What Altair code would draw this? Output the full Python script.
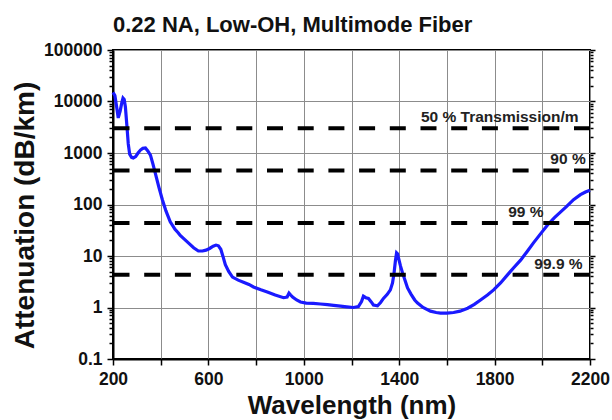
import altair as alt
import numpy as np
import pandas as pd

FONT = "Liberation Sans"

# Spectral attenuation of the fiber
wavelength_nm = [
    200, 208, 215, 222, 230, 237, 242, 247, 252, 258, 264, 270, 278, 285, 295,
    305, 315, 325, 336, 346, 357, 367, 377, 392, 407, 422, 440, 460, 474, 482,
    500, 516, 538, 558, 575, 590, 605, 620, 632, 642, 652, 662, 671, 685, 701,
    725, 747, 770, 789, 820, 847, 880, 915, 930, 938, 945, 953, 970, 986, 1010,
    1040, 1070, 1099, 1125, 1154, 1180, 1208, 1229, 1242, 1250, 1260, 1271, 1282,
    1292, 1309, 1322, 1334, 1350, 1363, 1372, 1378, 1384, 1389, 1393, 1397, 1405,
    1414, 1425, 1435, 1450, 1465, 1477, 1500, 1531, 1555, 1573, 1600, 1628, 1655,
    1687, 1715, 1741, 1770, 1796, 1825, 1854, 1880, 1909, 1935, 1963, 1990, 2022,
    2050, 2076, 2100, 2131, 2160, 2181, 2200,
]
attenuation_db_km = [
    15000, 13000, 8000, 4800, 6500, 9500, 11700, 11000, 7800, 3500, 1500, 950, 820, 800, 850,
    1000, 1140, 1230, 1250, 1100, 910, 620, 410, 220, 124, 75, 46, 33, 28, 25,
    21, 18, 14.5, 12.5, 12.5, 13, 14, 15.5, 16.3, 15.8, 13.5, 9.5, 6.8, 5.0, 3.9,
    3.4, 3.1, 2.8, 2.5, 2.2, 2.0, 1.75, 1.55, 1.6, 1.9, 1.75, 1.6, 1.4, 1.28, 1.22,
    1.2, 1.17, 1.14, 1.1, 1.06, 1.03, 1.0, 1.04, 1.3, 1.66, 1.55, 1.5, 1.3,
    1.12, 1.08, 1.25, 1.5, 1.8, 2.2, 3.0, 4.5, 8.0, 11.5, 11.0, 9.2, 6.5,
    4.7, 3.3, 2.4, 1.8, 1.4, 1.22, 1.0, 0.85, 0.8, 0.78, 0.78, 0.8, 0.85,
    0.97, 1.15, 1.4, 1.75, 2.2, 3.0, 4.3, 5.9, 8.3, 12, 18, 26, 40,
    55, 71, 90, 124, 155, 175, 190,
]

# Transmission-per-metre reference levels
transmission_pct = [50, 90, 99, 99.9]
threshold_labels = ["50 % Transmission/m", "90 %", "99 %", "99.9 %"]
label_end_nm = [2152, 2182, 2005, 2169]

decades = [0.1, 1, 10, 100, 1000, 10000, 100000]
minor_ticks = [round(m * d, 6) for d in decades[:-1] for m in range(2, 10)]
y_ticks = sorted(decades + minor_ticks)
x_ticks = list(range(200, 2201, 200))

curve = pd.DataFrame({"wavelength": wavelength_nm, "attenuation": attenuation_db_km})
levels = pd.DataFrame({
    "pct": transmission_pct,
    "label": threshold_labels,
    "label_x": label_end_nm,
})
# dB/km that leaves the given fraction of light after one metre
levels["loss"] = -10 * np.log10(levels["pct"] / 100) * 1000

is_decade = "indexof([0.1, 1, 10, 100, 1000, 10000, 100000], datum.value) >= 0"

x_scale = alt.Scale(domain=[200, 2200], nice=False, zero=False)
y_scale = alt.Scale(type="log", domain=[0.1, 100000], nice=False)


def bottom_axis():
    return alt.Axis(
        orient="bottom",
        values=x_ticks,
        format="d",
        labelExpr="datum.value % 400 == 200 ? datum.label : ''",
        labelFont=FONT, labelFontSize=17.5, labelFontWeight="bold", labelColor="#111",
        labelPadding=5, labelOverlap=False, labelFlush=False,
        grid=True, gridColor="#8c8c8c", gridWidth=1,
        tickSize=6, tickColor="black", tickWidth=1.5,
        domainColor="black", domainWidth=2,
        title="Wavelength (nm)", titleFont=FONT, titleFontSize=26, titleFontWeight="bold",
        titleColor="#111", titleX=238.5, titleY=54, titleBaseline="alphabetic",
    )


left_axis = alt.Axis(
    orient="left",
    values=y_ticks,
    format="~g",
    labelExpr=f"{is_decade} ? datum.label : ''",
    labelFont=FONT, labelFontSize=17.5, labelFontWeight="bold", labelColor="#111",
    labelPadding=5, labelOverlap=False, labelFlush=False,
    grid=True, gridColor="#8c8c8c", gridWidth=1,
    gridOpacity={"condition": {"test": is_decade, "value": 1}, "value": 0},
    tickSize={"condition": {"test": is_decade, "value": 6}, "value": 4},
    tickColor="black", tickWidth=1.5,
    domainColor="black", domainWidth=2,
    title="Attenuation (dB/km)", titleFont=FONT, titleFontSize=28, titleFontWeight="bold",
    titleColor="#111", titleX=-79.7, titleY=165, titleBaseline="alphabetic",
)

right_axis = alt.Axis(
    orient="right",
    values=y_ticks,
    labels=False,
    grid=False,
    domain=False,
    tickSize={"condition": {"test": is_decade, "value": 5}, "value": 3},
    tickColor="black", tickWidth=1.5,
    title="",
)

spectrum = alt.Chart(curve).mark_line(color="#1a1aff", strokeWidth=3.2).encode(
    x=alt.X("wavelength:Q", scale=x_scale, axis=bottom_axis()),
    y=alt.Y("attenuation:Q", scale=y_scale, axis=left_axis),
)

level_lines = alt.Chart(levels).mark_rule(
    color="black", strokeWidth=4, strokeDash=[16, 14.7]
).encode(
    y=alt.Y("loss:Q", scale=y_scale, axis=right_axis),
)

level_text = alt.Chart(levels).mark_text(
    align="right", baseline="middle", dy=-11,
    font=FONT, fontSize=15.5, fontWeight="bold", color="#222",
).encode(
    x=alt.X("label_x:Q", scale=x_scale, axis=bottom_axis()),
    y=alt.Y("loss:Q", scale=y_scale, axis=None),
    text="label:N",
)

chart = alt.layer(spectrum, level_lines, level_text).resolve_axis(
    y="independent"
).properties(
    width=477,
    height=309,
    padding={"left": 113, "top": 50, "right": 22, "bottom": 61},
    autosize=alt.AutoSizeParams(type="none"),
    background="white",
    title=alt.TitleParams(
        "0.22 NA, Low-OH, Multimode Fiber",
        anchor="start", frame="group",
        font=FONT, fontSize=22, fontWeight="bold", color="#111", offset=4,
    ),
).configure_view(stroke="black", strokeWidth=2)

chart.save("out.html", embed_options={"renderer": "svg", "actions": False})
